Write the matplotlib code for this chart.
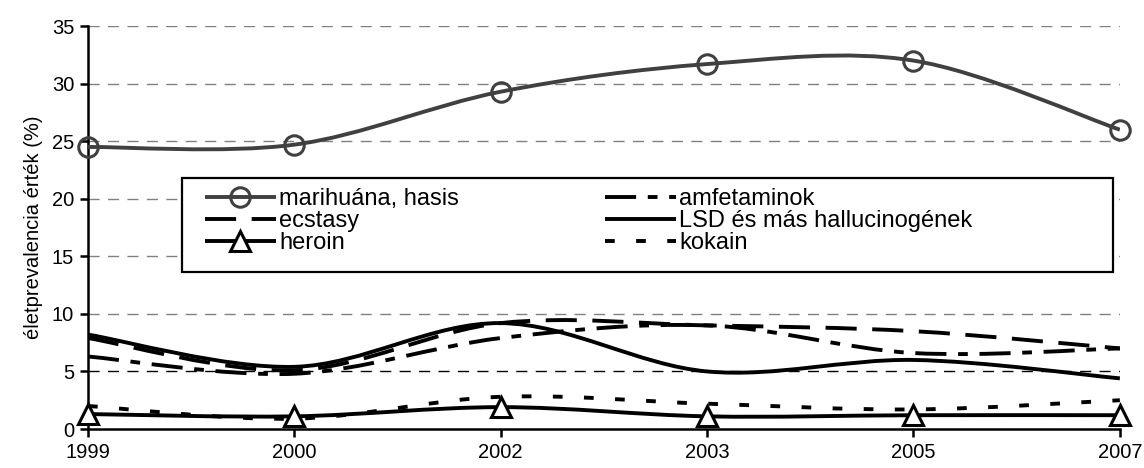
"""Életprevalencia értékek, 1999-2007 (smoothed lines, Excel style)."""

import matplotlib
matplotlib.use('Agg')
import matplotlib.pyplot as plt
import numpy
from matplotlib.lines import Line2D
from matplotlib.patches import PathPatch, Rectangle
from matplotlib.path import Path

years = ['1999', '2000', '2002', '2003', '2005', '2007']
marihuana = [24.5, 24.7, 29.3, 31.7, 32.0, 26.0]
ecstasy = [7.9, 5.1, 9.2, 9.0, 8.5, 7.0]
heroin = [1.3, 1.1, 1.9, 1.1, 1.2, 1.2]
amfetaminok = [6.3, 4.8, 7.9, 9.0, 6.6, 7.0]
lsd = [8.2, 5.4, 9.2, 5.0, 6.0, 4.4]
kokain = [2.0, 0.9, 2.8, 2.2, 1.7, 2.5]

plt.rcParams['font.family'] = ['Liberation Sans', 'DejaVu Sans']


def _smooth_path(xs, ys):
    """Bezier path through the points, like Excel's smoothed line."""
    pts = numpy.column_stack([xs, ys]).astype(float)
    ext = numpy.vstack([pts[:1], pts, pts[-1:]])
    verts = [pts[0]]
    codes = [Path.MOVETO]
    for i in range(len(pts) - 1):
        p0, p1, p2, p3 = ext[i], ext[i + 1], ext[i + 2], ext[i + 3]
        verts += [p1 + (p2 - p0) / 6.0, p2 - (p3 - p1) / 6.0, p2]
        codes += [Path.CURVE4] * 3
    return Path(verts, codes)


fig = plt.figure(figsize=(11.44, 4.68), dpi=100)
ax = fig.add_axes([0.0769, 0.0833, 0.902, 0.861])

x = numpy.arange(len(years))
lw = 2.8
series = [
    ('marihuána, hasis', marihuana, '#404040', (0, ()), 'o', 'none'),
    ('ecstasy', ecstasy, 'black', (0, (8, 4)), None, None),
    ('heroin', heroin, 'black', (0, ()), '^', 'white'),
    ('amfetaminok', amfetaminok, 'black', (0, (8, 3, 2.5, 3)), None, None),
    ('LSD és más hallucinogének', lsd, 'black', (0, ()), None, None),
    ('kokain', kokain, 'black', (0, (2.5, 5.5)), None, None),
]

handles = []
for label, vals, color, ls, marker, mfc in series:
    patch = PathPatch(_smooth_path(x, vals), fill=False, edgecolor=color,
                      lw=lw, linestyle=ls, capstyle='butt', zorder=3)
    ax.add_patch(patch)
    if marker:
        ax.plot(x, vals, ls='none', marker=marker, ms=14, mfc=mfc,
                mec=color, mew=2.2, zorder=4, clip_on=False)
    handles.append(Line2D([], [], color=color, lw=lw, linestyle=ls,
                          dash_capstyle='butt', marker=marker, ms=14,
                          mfc=mfc, mec=color, mew=2.2))

ax.set_xlim(0, len(years) - 1)
ax.set_ylim(0, 35)
ax.set_xticks(x)
ax.set_xticklabels(years)
ax.set_yticks(numpy.arange(0, 36, 5))
ax.tick_params(labelsize=14.5, width=1.8, length=6, color='black')
ax.tick_params(axis='x', pad=4)
ax.tick_params(axis='y', pad=4)
ax.set_ylabel('életprevalencia érték (%)', fontsize=14.5, labelpad=6)

for v in range(5, 36, 5):
    ax.axhline(v, color='black' if v == 5 else '#808080', lw=1.0,
               ls=(0, (8, 6)), zorder=1)

for side in ('top', 'right'):
    ax.spines[side].set_visible(False)
for side in ('left', 'bottom'):
    ax.spines[side].set_linewidth(1.8)

# legend box drawn separately so the padding matches the reference
ax.add_patch(Rectangle((0.091, 0.39), 0.902, 0.233, transform=ax.transAxes,
                       facecolor='white', edgecolor='black', lw=1.6,
                       zorder=5))
leg = ax.legend(handles=handles, labels=[s[0] for s in series],
                ncol=2, loc='upper left', bbox_to_anchor=(0.1134, 0.598),
                fontsize=17, frameon=False, handlelength=3.0,
                handletextpad=0.13, columnspacing=6.2, labelspacing=0.0,
                borderpad=0, borderaxespad=0)
leg.set_zorder(6)

fig.savefig('out.png', dpi=100)
